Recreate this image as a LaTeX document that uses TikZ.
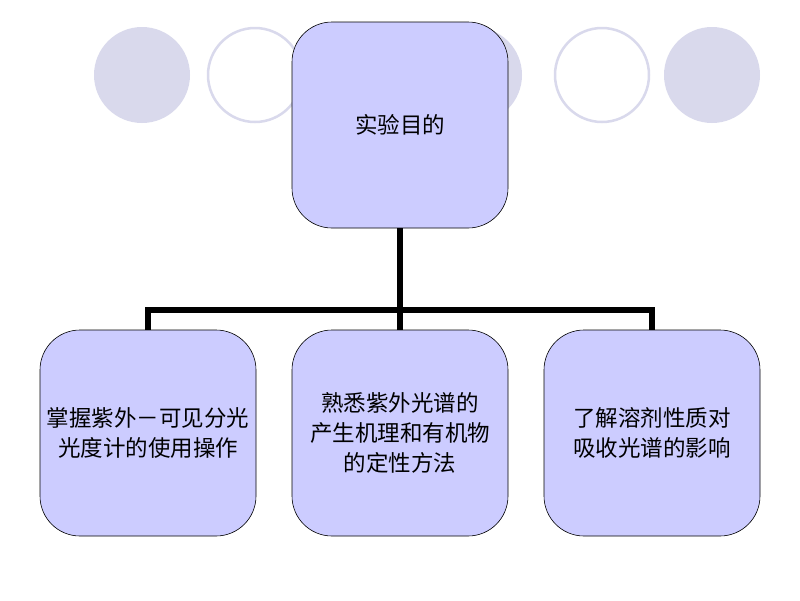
\documentclass[tikz,border=0pt]{standalone}
\usepackage{fontspec}
\newfontfamily\cjk{Noto Sans CJK SC}
\begin{document}
\begin{tikzpicture}[x=1pt,y=-1pt,
  dotfill/.style={fill=dotc,draw=none},
  dotring/.style={draw=dotc,line width=2.5pt,fill=white},
  goalbox/.style={draw=black,line width=0.6pt,fill=boxc,rounded corners=40pt,
    minimum width=216pt,minimum height=206pt,inner sep=0pt,align=center,
    font=\cjk\fontsize{22.5}{30}\selectfont},
  link/.style={line width=5.5pt}]
\definecolor{dotc}{HTML}{D9D9EC}
\definecolor{boxc}{HTML}{CCCCFF}
\useasboundingbox (0,0) rectangle (800,600);
\fill[white] (0,0) rectangle (800,600);
% decorative circles
\fill[dotfill] (142,75) circle (48);
\draw[dotring] (255,75) circle (47);
\fill[dotfill] (474,75) circle (48);
\draw[dotring] (602,75) circle (47);
\fill[dotfill] (712,75) circle (48);
% boxes
\node[goalbox] (top) at (400,125) {实验目的};
\node[goalbox] (b1) at (148,433) {掌握紫外－可见分光\\光度计的使用操作};
\node[goalbox] (b2) at (400,433) {熟悉紫外光谱的\\产生机理和有机物\\的定性方法};
\node[goalbox] (b3) at (652,433) {了解溶剂性质对\\吸收光谱的影响};
\coordinate (mid) at (400,310);
\draw[link] (top.south) -- (b2.north);
\draw[link] (b1.north) -- (b1.north |- mid) -- (b3.north |- mid) -- (b3.north);
\end{tikzpicture}
\end{document}
